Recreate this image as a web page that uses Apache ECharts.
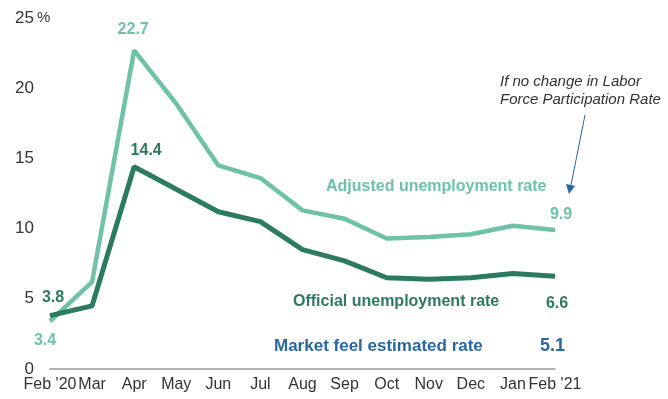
<!DOCTYPE html>
<html><head><meta charset="utf-8">
<script src="https://cdn.jsdelivr.net/npm/echarts@6/dist/echarts.min.js"></script>
<style>html,body{margin:0;padding:0;background:#fff}#c{width:668px;height:399px}</style>
</head><body><div id="c"></div>
<script>
const months = ["Feb '20","Mar","Apr","May","Jun","Jul","Aug","Sep","Oct","Nov","Dec","Jan","Feb '21"];
const adjusted = [3.4, 6.2, 22.7, 18.9, 14.5, 13.6, 11.3, 10.7, 9.3, 9.4, 9.6, 10.2, 9.9];
const official = [3.8, 4.5, 14.4, 12.8, 11.2, 10.5, 8.5, 7.7, 6.5, 6.4, 6.5, 6.8, 6.6];
const yTicks = [0, 5, 10, 15, 20, 25];
const marketFeel = 5.1;

const LIGHT = '#6ec2a8', DARK = '#2c7a62', BLUE = '#2a67a0', TXT = '#333';
const FONT = '"Liberation Sans", Arial, sans-serif';

function lbl(arr, opt) {
  return arr.map((v, i) => {
    const o = opt[i];
    if (!o) return v;
    return { value: v, label: Object.assign({ show: true, fontFamily: FONT, fontWeight: 'bold', fontSize: 16, formatter: String(v) }, o) };
  });
}

const chart = echarts.init(document.getElementById('c'), null, { renderer: 'canvas' });
chart.setOption({
  animation: false,
  grid: { left: 50, right: 113, top: 18, bottom: 30 },
  xAxis: {
    type: 'category', data: months, boundaryGap: false,
    axisLine: { lineStyle: { color: '#999', width: 1.5 } },
    axisTick: { show: false },
    axisLabel: { color: TXT, fontSize: 16, fontFamily: FONT, margin: 8, interval: 0 }
  },
  yAxis: {
    type: 'value', min: 0, max: 25, interval: 5,
    splitLine: { show: false }, axisLine: { show: false }, axisTick: { show: false },
    axisLabel: { color: TXT, fontSize: 17, fontFamily: FONT, margin: 16,
      formatter: v => yTicks.includes(v) ? String(v) : '' }
  },
  series: [
    { type: 'line', data: lbl(adjusted, {
        0: { color: LIGHT, position: 'bottom', offset: [-5, 6] },
        2: { color: LIGHT, position: 'top', offset: [-1, -7] },
        12: { color: LIGHT, position: 'top', offset: [6, -2] }
      }),
      symbol: 'circle', symbolSize: 1, showSymbol: true, itemStyle: { color: LIGHT },
      lineStyle: { color: LIGHT, width: 4.5 }, z: 2 },
    { type: 'line', data: lbl(official, {
        0: { color: DARK, position: 'top', offset: [3, -5] },
        2: { color: DARK, position: 'top', offset: [12, -3] },
        12: { color: DARK, position: 'bottom', offset: [2, 14] }
      }),
      symbol: 'circle', symbolSize: 1, showSymbol: true, itemStyle: { color: DARK },
      lineStyle: { color: DARK, width: 5 }, z: 3 }
  ],
  graphic: [
    { type: 'text', left: 37, top: 10, style: { text: '%', fill: TXT, font: '15px ' + FONT } },
    { type: 'text', left: 326, top: 179, style: { text: 'Adjusted unemployment rate', fill: LIGHT, font: 'bold 16px ' + FONT } },
    { type: 'text', left: 293, top: 294, style: { text: 'Official unemployment rate', fill: DARK, font: 'bold 16px ' + FONT } },
    { type: 'text', left: 274, top: 338, style: { text: 'Market feel estimated rate', fill: BLUE, font: 'bold 17px ' + FONT } },
    { type: 'text', left: 540, top: 337, style: { text: String(marketFeel), fill: BLUE, font: 'bold 18px ' + FONT } },
    { type: 'text', left: 500, top: 73, style: { text: 'If no change in Labor\nForce Participation Rate', fill: TXT, font: 'italic 15px ' + FONT, lineHeight: 18 } },
    { type: 'line', shape: { x1: 585, y1: 115, x2: 571, y2: 185 }, style: { stroke: BLUE, lineWidth: 1 } },
    { type: 'polygon', shape: { points: [[566, 184], [575, 186], [569, 194]] }, style: { fill: BLUE } }
  ]
});
</script></body></html>
